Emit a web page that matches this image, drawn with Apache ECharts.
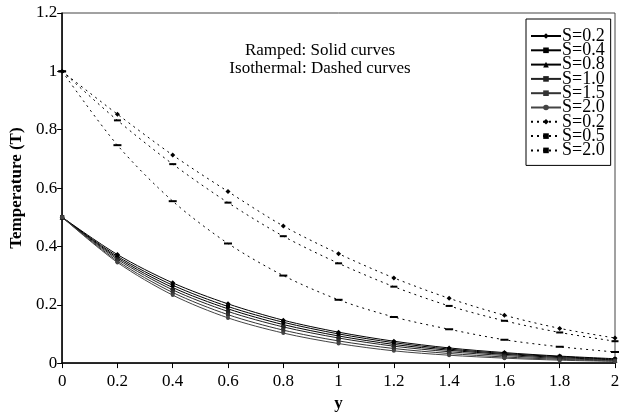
<!DOCTYPE html>
<html><head><meta charset="utf-8">
<script src="https://cdn.jsdelivr.net/npm/echarts@6/dist/echarts.min.js"></script>
<style>html,body{margin:0;padding:0;background:#fff}#c{width:627px;height:417px}</style>
</head><body><div id="c"></div>
<script>
const yPos = [0,0.2,0.4,0.6,0.8,1.0,1.2,1.4,1.6,1.8,2.0];
// Ramped (solid)
const rampS02 = [0.5,0.372,0.275,0.203,0.147,0.106,0.075,0.052,0.036,0.024,0.015];
const rampS04 = [0.5,0.366,0.267,0.194,0.140,0.100,0.070,0.048,0.033,0.022,0.013];
const rampS08 = [0.5,0.361,0.259,0.186,0.132,0.093,0.064,0.044,0.030,0.019,0.011];
const rampS10 = [0.5,0.356,0.251,0.177,0.124,0.086,0.058,0.039,0.026,0.016,0.009];
const rampS15 = [0.5,0.350,0.242,0.166,0.113,0.076,0.050,0.033,0.021,0.013,0.007];
const rampS20 = [0.5,0.345,0.233,0.155,0.103,0.067,0.042,0.027,0.017,0.010,0.006];
// Isothermal (dashed)
const isoS02 = [1.0,0.853,0.713,0.588,0.470,0.375,0.292,0.222,0.164,0.119,0.086];
const isoS05 = [1.0,0.832,0.682,0.550,0.435,0.342,0.262,0.196,0.145,0.105,0.075];
const isoS20 = [1.0,0.747,0.555,0.410,0.300,0.217,0.158,0.116,0.080,0.056,0.038];
const legendNames = ['S=0.2','S=0.4','S=0.8','S=1.0','S=1.5','S=2.0','S=0.2 ','S=0.5','S=2.0 '];
const noteLines = ['Ramped: Solid curves','Isothermal: Dashed curves'];

const FONT = '"Liberation Serif","DejaVu Serif",serif';
function pts(arr){ return yPos.map((x,i)=>[x,arr[i]]); }
function solid(name, arr, symbol, size, color){
  return {name, type:'line', data:pts(arr), smooth:0.3, symbol, symbolSize:size,
    lineStyle:{color:color, width:1, type:'solid'}, itemStyle:{color:color}, z:3};
}
function dashed(name, arr, symbol, size){
  return {name, type:'line', data:pts(arr), smooth:0.3, symbol, symbolSize:size,
    lineStyle:{color:'#000', width:1, type:[2,4]}, itemStyle:{color:'#000'}, z:2};
}
const series = [
  solid(legendNames[0], rampS02, 'diamond', 5, '#000'),
  solid(legendNames[1], rampS04, 'rect', 4, '#000'),
  solid(legendNames[2], rampS08, 'triangle', 5, '#000'),
  solid(legendNames[3], rampS10, 'rect', 4, '#222'),
  solid(legendNames[4], rampS15, 'rect', 4, '#333'),
  solid(legendNames[5], rampS20, 'circle', 4, '#444'),
  dashed(legendNames[6], isoS02, 'diamond', 5),
  dashed(legendNames[7], isoS05, 'rect', [7,2]),
  dashed(legendNames[8], isoS20, 'rect', [8,2])
];
const chart = echarts.init(document.getElementById('c'));
chart.setOption({
  animation:false,
  textStyle:{fontFamily:FONT},
  grid:{left:58, right:12, top:13, bottom:48, show:true, borderColor:'#444', borderWidth:1},
  xAxis:{type:'value', min:0, max:2, interval:0.2, name:'y', nameLocation:'middle', nameGap:31,
    nameTextStyle:{fontFamily:FONT, fontWeight:'bold', fontSize:17, color:'#000'},
    axisLine:{show:true, lineStyle:{color:'#000', width:1.5}}, axisTick:{show:true, inside:false, length:5, lineStyle:{color:'#000'}},
    splitLine:{show:false}, axisLabel:{fontFamily:FONT, fontSize:17, color:'#000', margin:10}},
  yAxis:{type:'value', min:0, max:1.2, interval:0.2, name:'Temperature (T)', nameLocation:'middle', nameGap:32,
    nameTextStyle:{fontFamily:FONT, fontWeight:'bold', fontSize:17, color:'#000'},
    axisLine:{show:true, lineStyle:{color:'#000', width:1.5}}, axisTick:{show:true, inside:false, length:5, lineStyle:{color:'#000'}},
    splitLine:{show:false}, axisLabel:{fontFamily:FONT, fontSize:17, color:'#000', margin:5}},
  legend:{orient:'vertical', left:526, top:19, itemWidth:30, itemHeight:7, itemGap:-3.7,
    padding:[8,6,6,4], borderColor:'#000', borderWidth:1, backgroundColor:'#fff',
    textStyle:{fontFamily:FONT, fontSize:18, color:'#000', padding:[0,0,0,-4]},
    formatter: n => n.trim(), data:legendNames},
  graphic:[
    {type:'text', x:320, y:51, style:{text:noteLines[0], font:'17px '+FONT, fill:'#000', align:'center', verticalAlign:'middle'}},
    {type:'text', x:320, y:69, style:{text:noteLines[1], font:'17px '+FONT, fill:'#000', align:'center', verticalAlign:'middle'}}
  ],
  series
});
</script></body></html>
